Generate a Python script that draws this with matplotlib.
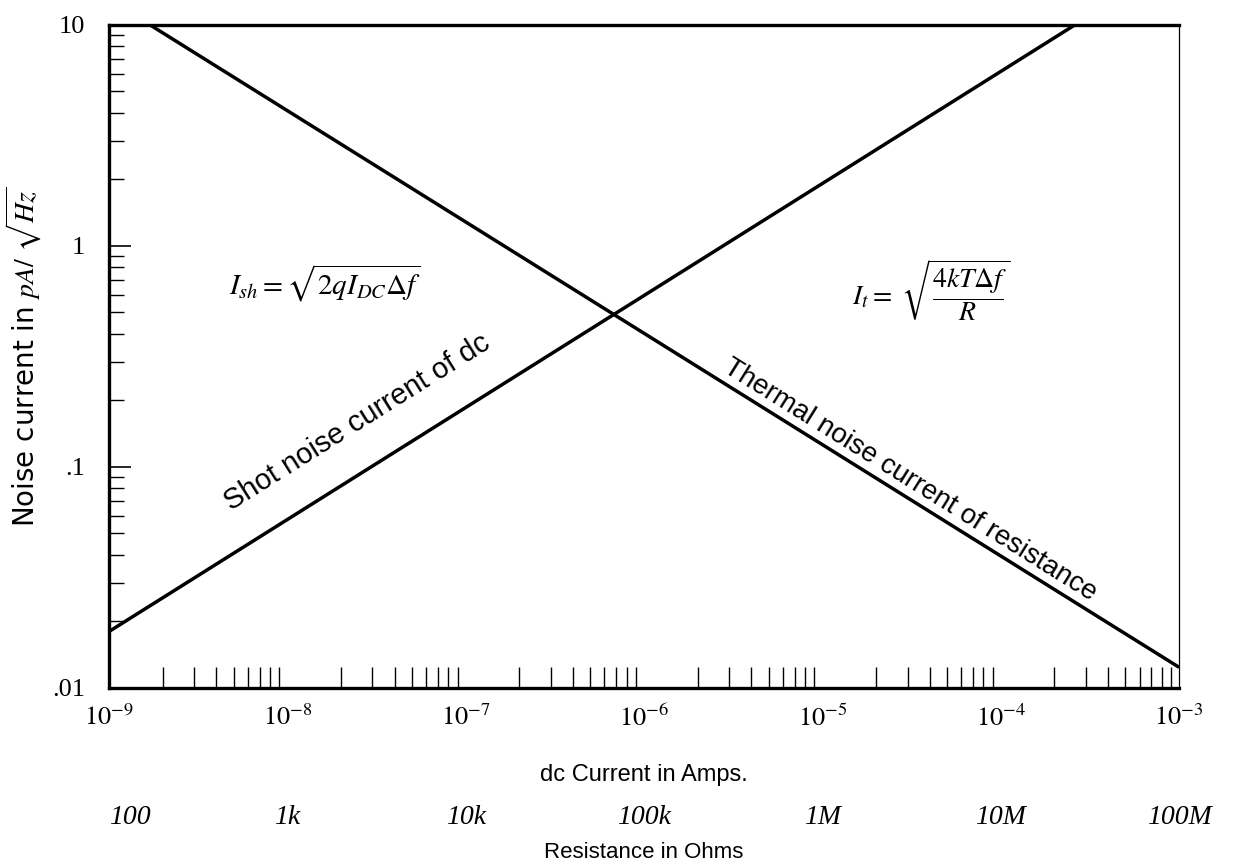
import numpy as np
import matplotlib
matplotlib.use("Agg")
import matplotlib.pyplot as plt
from matplotlib.ticker import LogLocator, FixedLocator, NullFormatter
from matplotlib.transforms import blended_transform_factory

plt.rcParams["mathtext.fontset"] = "stix"
plt.rcParams["font.family"] = ["Liberation Sans", "DejaVu Sans"]

# current axis (A) and the matching resistance scale (ohms)
current_ticks = [1e-9, 1e-8, 1e-7, 1e-6, 1e-5, 1e-4, 1e-3]
current_labels = [r"$10^{-9}$", r"$10^{-8}$", r"$10^{-7}$", r"$10^{-6}$",
                  r"$10^{-5}$", r"$10^{-4}$", r"$10^{-3}$"]
resistance_labels = ["100", "1k", "10k", "100k", "1M", "10M", "100M"]

noise_ticks = [0.01, 0.1, 1, 10]
noise_labels = [".01", ".1", "1", "10"]

# shot noise vs dc current, pA/sqrt(Hz)
shot_x = [1.0e-9, 2.6e-4]
shot_y = [0.018, 10.0]

# thermal noise vs resistance (plotted on the current scale)
thermal_x = [1.7e-9, 1.0e-3]
thermal_y = [10.0, 0.0124]

fig = plt.figure(figsize=(12.33, 8.67), dpi=100)
ax = fig.add_axes([0.0884, 0.2065, 0.8679, 0.7647])

ax.plot(shot_x, shot_y, color="black", lw=2.5, solid_capstyle="butt")
ax.plot(thermal_x, thermal_y, color="black", lw=2.5, solid_capstyle="butt")

ax.set_xscale("log")
ax.set_yscale("log")
ax.set_xlim(1e-9, 1e-3)
ax.set_ylim(0.01, 10)

serif = ["Liberation Serif", "DejaVu Serif"]
ax.xaxis.set_major_locator(FixedLocator(current_ticks))
ax.set_xticklabels(current_labels, fontsize=19)
ax.xaxis.set_minor_locator(LogLocator(base=10, subs=np.arange(2, 10)))
ax.xaxis.set_minor_formatter(NullFormatter())
ax.yaxis.set_major_locator(FixedLocator(noise_ticks))
ax.set_yticklabels(noise_labels, fontsize=19, family=serif)
ax.yaxis.set_minor_locator(LogLocator(base=10, subs=np.arange(2, 10)))
ax.yaxis.set_minor_formatter(NullFormatter())

ax.tick_params(axis="x", which="major", direction="in", length=0, pad=12)
ax.tick_params(axis="x", which="minor", direction="in", length=15, width=1.0)
ax.tick_params(axis="y", which="major", direction="in", length=16, width=1.2, pad=17)
ax.tick_params(axis="y", which="minor", direction="in", length=11, width=1.0)
ax.tick_params(top=False, right=False, which="both")

for side in ["left", "top", "bottom"]:
    ax.spines[side].set_linewidth(2.4)
ax.spines["right"].set_linewidth(0.9)

ax.set_xlabel("dc Current in Amps.", fontsize=17, labelpad=24)
ax.set_ylabel(r"Noise current in $pA/\ \sqrt{Hz}$", fontsize=20,
              family=["DejaVu Sans"], labelpad=6)

# resistance scale under the current axis
trans = blended_transform_factory(ax.transData, ax.transAxes)
for i, (x, lab) in enumerate(zip(current_ticks, resistance_labels)):
    ha = "left" if i == 0 else "center"
    ax.text(x, -0.195, lab, transform=trans, ha=ha, va="center",
            fontsize=20, family=serif, style="italic")
ax.text(0.5, -0.248, "Resistance in Ohms", transform=ax.transAxes,
        ha="center", va="center", fontsize=16)

# formulas
ax.text(1.63e-8, 0.68, r"$I_{sh} = \sqrt{2qI_{DC}\Delta f}$", fontsize=21,
        ha="center", va="center")
ax.text(4.1e-5, 0.63, r"$I_t = \ \sqrt{\dfrac{4kT\Delta f}{R}}$", fontsize=20,
        ha="center", va="center")


def line_angle(xs, ys):
    p = ax.transData.transform(np.column_stack([xs, ys]))
    d = p[1] - p[0]
    return np.degrees(np.arctan2(d[1], d[0]))


ax.text(2.46e-8, 0.16, "Shot noise current of dc", fontsize=21,
        rotation=line_angle(shot_x, shot_y), rotation_mode="anchor",
        ha="center", va="center")
ax.text(3.1e-5, 0.087, "Thermal noise current of resistance", fontsize=20,
        rotation=line_angle(thermal_x, thermal_y), rotation_mode="anchor",
        ha="center", va="center")

fig.savefig("out.png", dpi=100, facecolor="white")
